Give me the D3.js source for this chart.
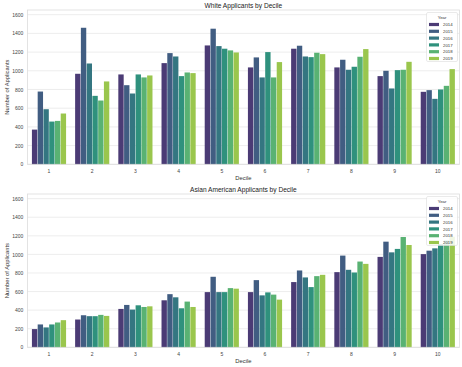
<!DOCTYPE html>
<html>
<head>
<meta charset="utf-8">
<title>Applicants by Decile</title>
<script src="https://d3js.org/d3.v7.min.js"></script>
<style>
  body { margin: 0; background: #fff; }
  text { font-family: "Liberation Sans", Arial, sans-serif; }
</style>
</head>
<body>
<script>
// data
var years = ["2014", "2015", "2016", "2017", "2018", "2019"];
var deciles = ["1", "2", "3", "4", "5", "6", "7", "8", "9", "10"];
var yTicks = [0, 200, 400, 600, 800, 1000, 1200, 1400, 1600];

// one row per decile, one value per year
var whiteCounts = [
  [371, 778, 589, 457, 464, 543],
  [968, 1460, 1078, 732, 682, 886],
  [961, 846, 757, 961, 929, 950],
  [1082, 1189, 1153, 943, 982, 975],
  [1271, 1450, 1264, 1236, 1218, 1196],
  [1036, 1143, 929, 1200, 929, 1093],
  [1236, 1268, 1153, 1146, 1193, 1178],
  [1036, 1118, 1011, 1043, 1150, 1232],
  [943, 1000, 811, 1007, 1011, 1096],
  [775, 793, 700, 800, 839, 1018]
];
var asianCounts = [
  [196, 246, 214, 246, 267, 292],
  [299, 345, 335, 335, 349, 338],
  [413, 456, 406, 452, 434, 441],
  [506, 572, 538, 420, 492, 434],
  [594, 759, 594, 594, 637, 631],
  [594, 723, 559, 591, 567, 513],
  [702, 827, 752, 648, 766, 780],
  [809, 987, 834, 805, 923, 898],
  [973, 1137, 1022, 1059, 1187, 1101],
  [1003, 1040, 1065, 1110, 1150, 1190]
];

var W = 462, H = 367;
var svg = d3.select("body").append("svg")
  .attr("width", W)
  .attr("height", H);

// seaborn viridis, desaturated like barplot does
var colors = years.map(function(y, i) {
  var c = d3.hsl(d3.interpolateViridis((i + 1) / 7));
  c.s = c.s * 0.75;
  return c.formatHex();
});

var x = d3.scaleBand().domain(deciles).range([27.4, 459.4]).padding(0);
var xInner = d3.scaleBand().domain(years)
  .range([x.bandwidth() * 0.1, x.bandwidth() * 0.9]).padding(0);

function drawPanel(data, title, top, bottom) {
  var y = d3.scaleLinear().domain([0, 1650]).range([bottom, top]);
  var g = svg.append("g");

  // grid
  g.selectAll(".grid").data(yTicks).enter().append("line")
    .attr("x1", x.range()[0]).attr("x2", x.range()[1])
    .attr("y1", function(d) { return y(d); })
    .attr("y2", function(d) { return y(d); })
    .attr("stroke", "#e8e8e8").attr("stroke-width", 0.8);

  // bars
  var groups = g.selectAll(".dec").data(data).enter().append("g")
    .attr("transform", function(d, i) { return "translate(" + x(deciles[i]) + ",0)"; });
  groups.selectAll("rect").data(function(d) { return d; }).enter().append("rect")
    .attr("x", function(d, i) { return xInner(years[i]) + 0.2; })
    .attr("width", xInner.bandwidth() - 0.4)
    .attr("y", function(d) { return y(d); })
    .attr("height", function(d) { return y(0) - y(d); })
    .attr("fill", function(d, i) { return colors[i]; });

  // frame
  g.append("rect")
    .attr("x", x.range()[0]).attr("y", top)
    .attr("width", x.range()[1] - x.range()[0]).attr("height", bottom - top)
    .attr("fill", "none").attr("stroke", "#dcdcdc").attr("stroke-width", 0.8);

  // axes
  var yAxis = d3.axisLeft(y).tickValues(yTicks).tickFormat(d3.format("d"))
    .tickSize(0).tickPadding(4);
  g.append("g").attr("transform", "translate(" + x.range()[0] + ",0)").call(yAxis)
    .call(function(a) { a.select(".domain").remove(); })
    .selectAll("text").attr("font-size", 5).attr("fill", "#444")
    .attr("font-family", "Liberation Sans, Arial, sans-serif");

  var xAxis = d3.axisBottom(x).tickSize(0).tickPadding(5);
  g.append("g").attr("transform", "translate(0," + bottom + ")").call(xAxis)
    .call(function(a) { a.select(".domain").remove(); })
    .selectAll("text").attr("font-size", 5).attr("fill", "#444")
    .attr("font-family", "Liberation Sans, Arial, sans-serif");

  // labels
  var cx = (x.range()[0] + x.range()[1]) / 2;
  g.append("text").attr("x", cx).attr("y", top - 2.5)
    .attr("text-anchor", "middle").attr("font-size", 6.6).attr("fill", "#222")
    .text(title);
  g.append("text").attr("x", cx).attr("y", bottom + 15.5)
    .attr("text-anchor", "middle").attr("font-size", 5.8).attr("fill", "#333")
    .text("Decile");
  g.append("text")
    .attr("transform", "translate(9," + ((top + bottom) / 2) + ") rotate(-90)")
    .attr("text-anchor", "middle").attr("font-size", 5.8).attr("fill", "#333")
    .text("Number of Applicants");

  // legend
  var lx = 426.5, ly = top + 2.5;
  var leg = g.append("g").attr("transform", "translate(" + lx + "," + ly + ")");
  leg.append("rect").attr("width", 31).attr("height", 49).attr("rx", 1.5)
    .attr("fill", "#fff").attr("fill-opacity", 0.85)
    .attr("stroke", "#dcdcdc").attr("stroke-width", 0.6);
  leg.append("text").attr("x", 15.5).attr("y", 6)
    .attr("text-anchor", "middle").attr("font-size", 4.3).attr("fill", "#333")
    .text("Year");
  var items = leg.selectAll(".item").data(years).enter().append("g")
    .attr("transform", function(d, i) { return "translate(0," + (12 + i * 6.8) + ")"; });
  items.append("rect").attr("x", 2.5).attr("y", -1.6).attr("width", 10).attr("height", 3.2)
    .attr("fill", function(d, i) { return colors[i]; });
  items.append("text").attr("x", 16.5).attr("y", 1.6)
    .attr("font-size", 4.3).attr("fill", "#333")
    .text(function(d) { return d; });
}

drawPanel(whiteCounts, "White Applicants by Decile", 10, 164.3);
drawPanel(asianCounts, "Asian American Applicants by Decile", 194, 347.3);
</script>
</body>
</html>
